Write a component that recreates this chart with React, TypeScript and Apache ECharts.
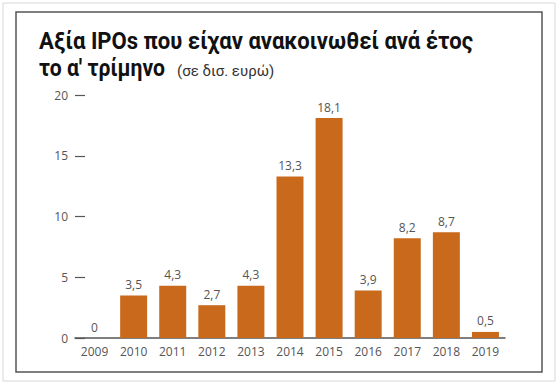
import React, { useEffect, useRef } from "react";
import * as echarts from "echarts";

const years = ["2009", "2010", "2011", "2012", "2013", "2014", "2015", "2016", "2017", "2018", "2019"];
const values = [0, 3.5, 4.3, 2.7, 4.3, 13.3, 18.1, 3.9, 8.2, 8.7, 0.5];
const titleLine1 = "Αξία IPOs που είχαν ανακοινωθεί ανά έτος";
const titleLine2 = "το α' τρίμηνο";
const unitText = "(σε δισ. ευρώ)";

const TFONT = "Roboto, 'Noto Sans', sans-serif";
const FONT = "'Open Sans', 'Noto Sans', sans-serif";

export default function App() {
  const ref = useRef<HTMLDivElement>(null);
  useEffect(() => {
    if (!ref.current) return;
    const chart = echarts.init(ref.current, undefined, { renderer: "svg" });
    chart.setOption({
      animation: false,
      backgroundColor: "#ffffff",
      graphic: [
        {
          type: "rect",
          shape: { x: 3, y: 3, width: 552, height: 378 },
          style: { fill: "none", stroke: "#d8d8d8", lineWidth: 1 },
          silent: true,
        },
        {
          type: "rect",
          shape: { x: 16, y: 12, width: 526, height: 360 },
          style: { fill: "none", stroke: "#555555", lineWidth: 1.5 },
          silent: true,
        },
        {
          type: "text",
          x: 39,
          y: 41,
          scaleX: 0.96,
          style: {
            text: titleLine1,
            x: 0,
            y: 0,
            fontFamily: TFONT,
            fontSize: 23,
            fontWeight: "bold",
            fill: "#111111",
            align: "left",
            verticalAlign: "middle",
          },
        },
        {
          type: "text",
          x: 39,
          y: 68,
          scaleX: 0.92,
          style: {
            text: titleLine2,
            x: 0,
            y: 0,
            fontFamily: TFONT,
            fontSize: 23,
            fontWeight: "bold",
            fill: "#111111",
            align: "left",
            verticalAlign: "middle",
          },
        },
        {
          type: "text",
          x: 177,
          y: 71,
          scaleX: 1.0,
          style: {
            text: unitText,
            x: 0,
            y: 0,
            fontFamily: TFONT,
            fontSize: 15,
            fill: "#333333",
            align: "left",
            verticalAlign: "middle",
          },
        },
      ],
      grid: { left: 75, right: 53, top: 95, bottom: 47, containLabel: false },
      xAxis: {
        type: "category",
        data: years,
        axisLine: { show: true, lineStyle: { color: "#555555", width: 1.5 } },
        axisTick: { show: false },
        axisLabel: { color: "#555555", fontFamily: FONT, fontSize: 12, margin: 7 },
      },
      yAxis: {
        type: "value",
        min: 0,
        max: 20,
        interval: 5,
        axisLine: { show: false },
        axisTick: { show: true, inside: true, length: 10, lineStyle: { color: "#555555", width: 1.2 } },
        splitLine: { show: false },
        axisLabel: { color: "#555555", fontFamily: FONT, fontSize: 12, margin: 7 },
      },
      series: [
        {
          type: "bar",
          data: values,
          barCategoryGap: "31%",
          itemStyle: { color: "#c8691c" },
          label: {
            show: true,
            position: "top",
            distance: 5,
            color: "#555555",
            fontFamily: FONT,
            fontSize: 12,
            formatter: (p: any) => String(p.value).replace(".", ","),
          },
        },
      ],
    });
    return () => chart.dispose();
  }, []);
  return (
    <div style={{ position: "absolute", left: 0, top: 0, width: 558, height: 385 }}>
      <div ref={ref} style={{ width: 558, height: 385 }} />
    </div>
  );
}
